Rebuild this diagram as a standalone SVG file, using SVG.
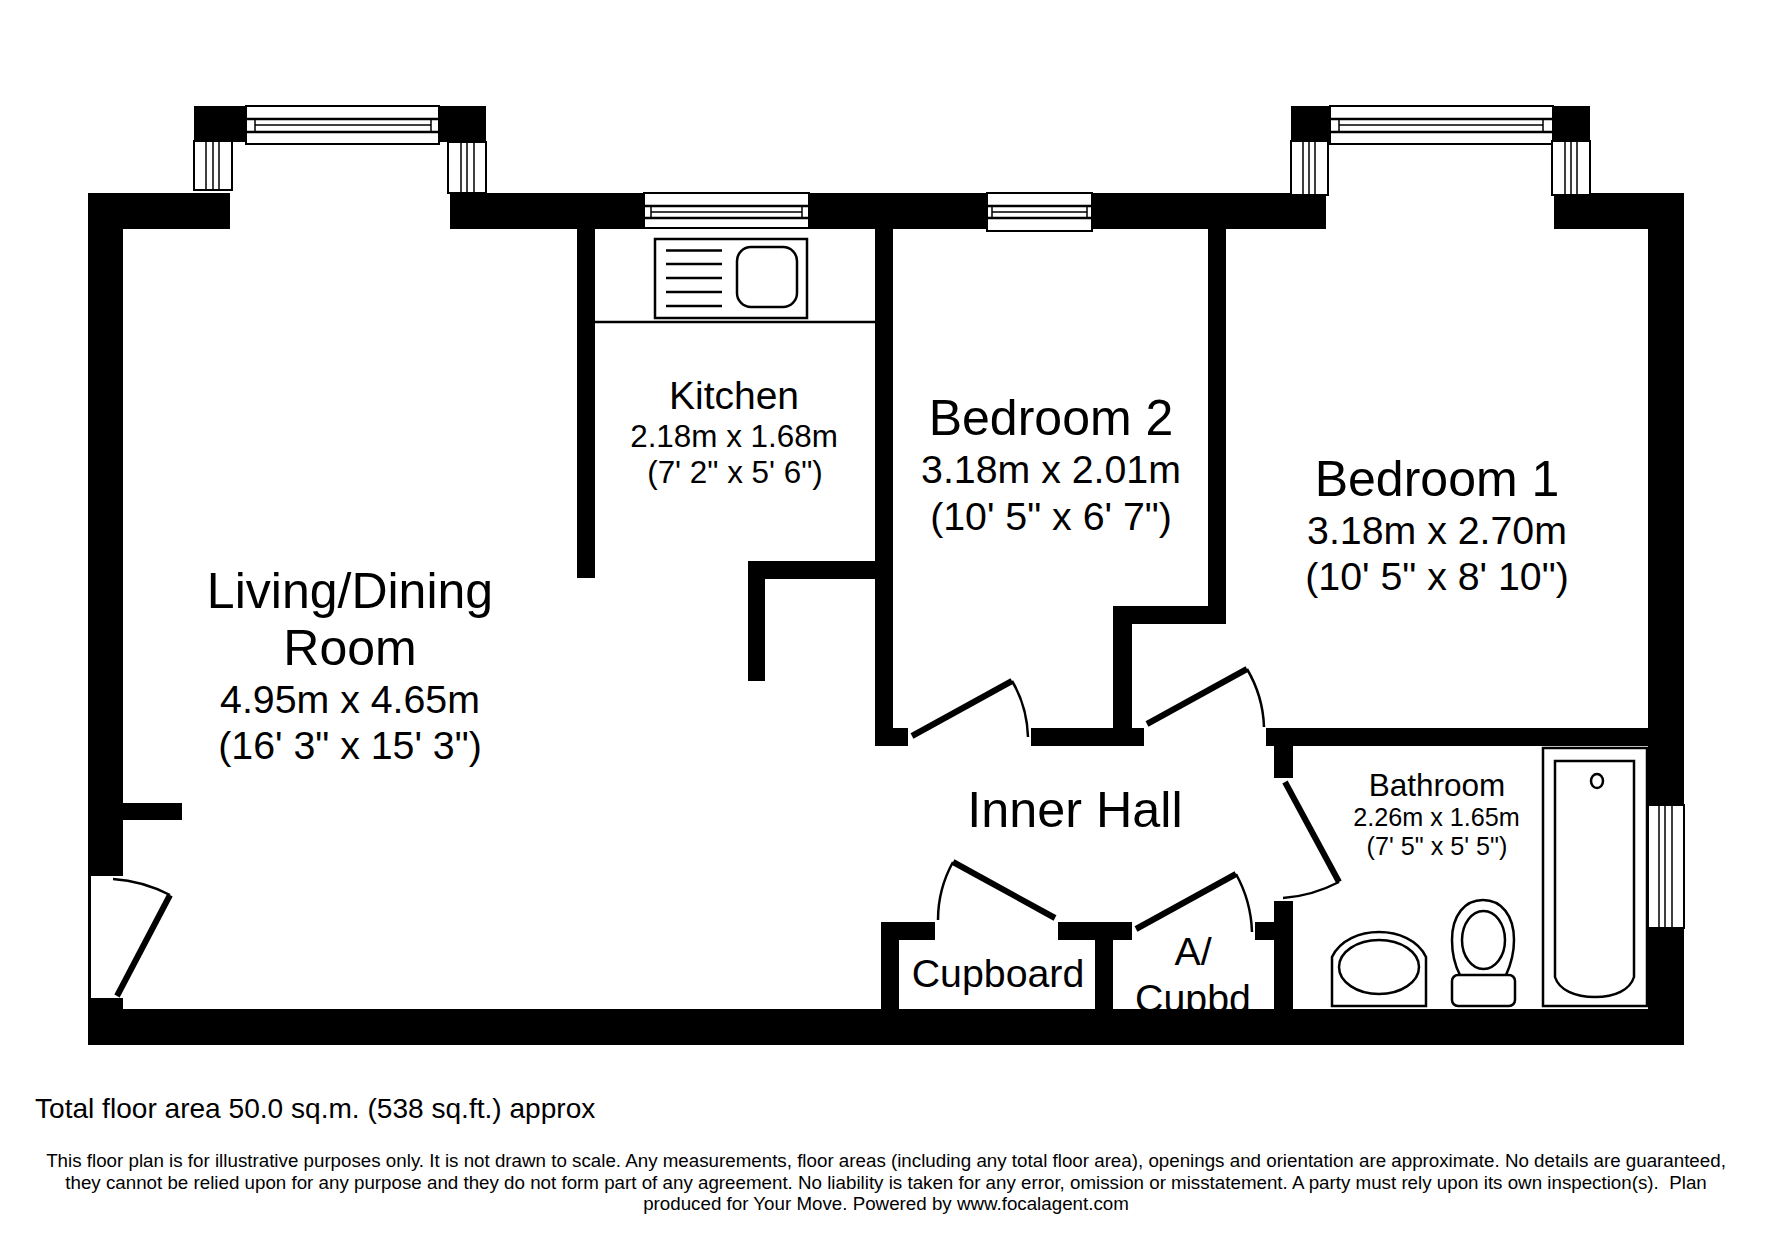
<svg xmlns="http://www.w3.org/2000/svg" width="1771" height="1240" viewBox="0 0 1771 1240">
<style>
text{font-family:"Liberation Sans",Arial,sans-serif;fill:#000;text-anchor:middle}
.w{fill:#000}
.o{fill:#fff;stroke:#000;stroke-width:2}
.t{fill:none;stroke:#000;stroke-width:1.500}
.l{fill:none;stroke:#000;stroke-width:2.500}
.leaf{fill:none;stroke:#000;stroke-width:6}
.arc{fill:none;stroke:#000;stroke-width:2.500}
.f1{font-size:50px}.f2{font-size:39.300px}.f3{font-size:39px}.f4{font-size:31.400px}
.f5{font-size:39.300px}.f6{font-size:25.200px}.f7{font-size:18.760px}
</style>
<rect width="1771" height="1240" fill="#fff"/>
<g id="labels">
<text class="f1" x="350" y="608">Living/Dining</text>
<text class="f1" x="350" y="665">Room</text>
<text class="f2" x="350" y="713">4.95m x 4.65m</text>
<text class="f2" x="350" y="759">(16' 3" x 15' 3")</text>
<text class="f3" x="734" y="409">Kitchen</text>
<text class="f4" x="734" y="447">2.18m x 1.68m</text>
<text class="f4" x="735" y="483">(7' 2" x 5' 6")</text>
<text class="f1" x="1051" y="435">Bedroom 2</text>
<text class="f2" x="1051" y="483">3.18m x 2.01m</text>
<text class="f2" x="1051" y="530">(10' 5" x 6' 7")</text>
<text class="f1" x="1437" y="496">Bedroom 1</text>
<text class="f2" x="1437" y="544">3.18m x 2.70m</text>
<text class="f2" x="1437" y="590">(10' 5" x 8' 10")</text>
<text style="font-size:50.300px" x="1075" y="827">Inner Hall</text>
<text style="font-size:31.500px" x="1437" y="796">Bathroom</text>
<text class="f6" x="1436.500" y="826">2.26m x 1.65m</text>
<text class="f6" x="1437" y="855">(7' 5" x 5' 5")</text>
<text class="f5" x="998" y="987">Cupboard</text>
<text class="f5" x="1193" y="965">A/</text>
<text class="f5" x="1193" y="1012">Cupbd</text>
</g>
<g id="walls" class="w">
<rect x="88" y="193" width="142" height="36"/>
<rect x="450" y="193" width="876" height="36"/>
<rect x="1554" y="193" width="130" height="36"/>
<rect x="88" y="193" width="35" height="683"/>
<rect x="88" y="876" width="3" height="122"/>
<rect x="88" y="998" width="35" height="47"/>
<rect x="88" y="1009" width="1596" height="36"/>
<rect x="1648" y="193" width="36" height="852"/>
<rect x="123" y="803" width="59" height="17"/>
<rect x="577" y="229" width="18" height="349"/>
<rect x="875" y="229" width="18" height="517"/>
<rect x="748" y="561" width="128" height="18"/>
<rect x="748" y="561" width="17" height="120"/>
<rect x="875" y="728" width="33" height="18"/>
<rect x="1208" y="229" width="18" height="394"/>
<rect x="1114" y="606" width="112" height="18"/>
<rect x="1113" y="606" width="19" height="140"/>
<rect x="1031" y="728" width="113" height="18"/>
<rect x="1266" y="728" width="382" height="18"/>
<rect x="1274" y="728" width="19" height="50"/>
<rect x="1274" y="901" width="19" height="108"/>
<rect x="1255" y="922" width="19" height="18"/>
<rect x="881" y="922" width="54" height="18"/>
<rect x="881" y="922" width="18" height="87"/>
<rect x="1058" y="922" width="74" height="18"/>
<rect x="1095" y="922" width="18" height="87"/>
<rect x="194" y="106" width="52" height="36"/>
<rect x="439" y="106" width="47" height="36"/>
<rect x="1291" y="106" width="39" height="36"/>
<rect x="1553" y="106" width="37" height="36"/>
</g>
<g id="windows">
<g id="window-living-front">
<rect class="o" x="246" y="106" width="193" height="38"/>
<path class="l" d="M246 119H439M246 132H439"/>
<path class="t" d="M255 119V132M431 119V132M255 125H431"/>
</g>
<g id="window-living-left">
<rect class="o" x="194" y="141" width="38" height="49"/>
<path class="t" d="M206 141V190M219 141V190M213 141V190"/>
</g>
<g id="window-living-right">
<rect class="o" x="448" y="142" width="38" height="51"/>
<path class="t" d="M461 142V193M474 142V193M467 142V193"/>
</g>
<g id="window-kitchen">
<rect class="o" x="644" y="193" width="165" height="35"/>
<path class="l" d="M644 206H809M644 218H809"/>
<path class="t" d="M651 206V218M802 206V218M651 212H802"/>
</g>
<g id="window-bedroom2">
<rect class="o" x="987" y="193" width="105" height="38"/>
<path class="l" d="M987 206H1092M987 218H1092"/>
<path class="t" d="M992 206V218M1087 206V218M992 212H1087"/>
</g>
<g id="window-bedroom1-front">
<rect class="o" x="1330" y="106" width="223" height="38"/>
<path class="l" d="M1330 119H1553M1330 132H1553"/>
<path class="t" d="M1339 119V132M1543 119V132M1339 125H1543"/>
</g>
<g id="window-bedroom1-left">
<rect class="o" x="1291" y="141" width="37" height="54"/>
<path class="t" d="M1303 141V195M1315 141V195M1309 141V195"/>
</g>
<g id="window-bedroom1-right">
<rect class="o" x="1552" y="141" width="38" height="54"/>
<path class="t" d="M1565 141V195M1577 141V195M1571 141V195"/>
</g>
<g id="window-bathroom">
<rect class="o" x="1648" y="805" width="36" height="123"/>
<path class="t" d="M1659 805V928M1672 805V928M1665 805V928"/>
</g>
</g>
<g id="doors">
<g id="door-entrance"><path class="leaf" d="M117 996L170 895"/><path class="arc" d="M113 879Q143 881 170 895"/></g>
<g id="door-bedroom2"><path class="leaf" d="M912 736L1012 681"/><path class="arc" d="M1012 681Q1027 706 1028 737"/></g>
<g id="door-bedroom1"><path class="leaf" d="M1147 724L1247 669"/><path class="arc" d="M1247 669Q1263 696 1264 727"/></g>
<g id="door-bathroom"><path class="leaf" d="M1285 782L1339 882"/><path class="arc" d="M1339 882Q1312 896 1283 898"/></g>
<g id="door-cupboard"><path class="leaf" d="M1055 918L953 862"/><path class="arc" d="M953 862Q938 889 938 920"/></g>
<g id="door-acupbd"><path class="leaf" d="M1136 929L1236 874"/><path class="arc" d="M1236 874Q1251 901 1252 932"/></g>
</g>
<g id="fixtures">
<g id="counter"><path class="l" d="M595 322H875"/></g>
<g id="sink">
<rect class="o" style="stroke-width:2.500" x="655" y="239" width="152" height="79"/>
<path class="l" d="M666 250.500H722M666 264H722M666 278H722M666 292H722M666 306H722"/>
<rect class="l" x="737" y="247" width="60" height="60" rx="14"/>
</g>
<g id="bath">
<rect class="l" x="1543" y="748" width="104" height="258"/>
<path class="l" d="M1555 761H1634V977C1630 990 1615 997 1595 997C1575 997 1559 990 1555 977Z"/>
<ellipse class="l" cx="1597" cy="781" rx="6" ry="7"/>
</g>
<g id="toilet">
<path class="l" d="M1460 975C1452 960 1452 945 1452 940C1452 915 1465 900 1483 900C1501 900 1514 915 1514 940C1514 950 1513 960 1506 975"/>
<ellipse class="l" cx="1483.500" cy="940" rx="21.500" ry="29"/>
<rect class="l" x="1452" y="975" width="63" height="31" rx="6"/>
</g>
<g id="basin">
<path class="l" d="M1332 1006V957C1340 940 1360 932 1379 932C1398 932 1418 940 1426 957V1006Z"/>
<ellipse class="l" cx="1379" cy="967" rx="40" ry="27"/>
</g>
</g>
<g id="footer">
<text style="font-size:28.080px;text-anchor:start" x="35" y="1118">Total floor area 50.0 sq.m. (538 sq.ft.) approx</text>
<text class="f7" x="886" y="1167">This floor plan is for illustrative purposes only. It is not drawn to scale. Any measurements, floor areas (including any total floor area), openings and orientation are approximate. No details are guaranteed,</text>
<text class="f7" x="886" y="1189" xml:space="preserve">they cannot be relied upon for any purpose and they do not form part of any agreement. No liability is taken for any error, omission or misstatement. A party must rely upon its own inspection(s).  Plan</text>
<text class="f7" x="886" y="1210">produced for Your Move. Powered by www.focalagent.com</text>
</g>
</svg>
